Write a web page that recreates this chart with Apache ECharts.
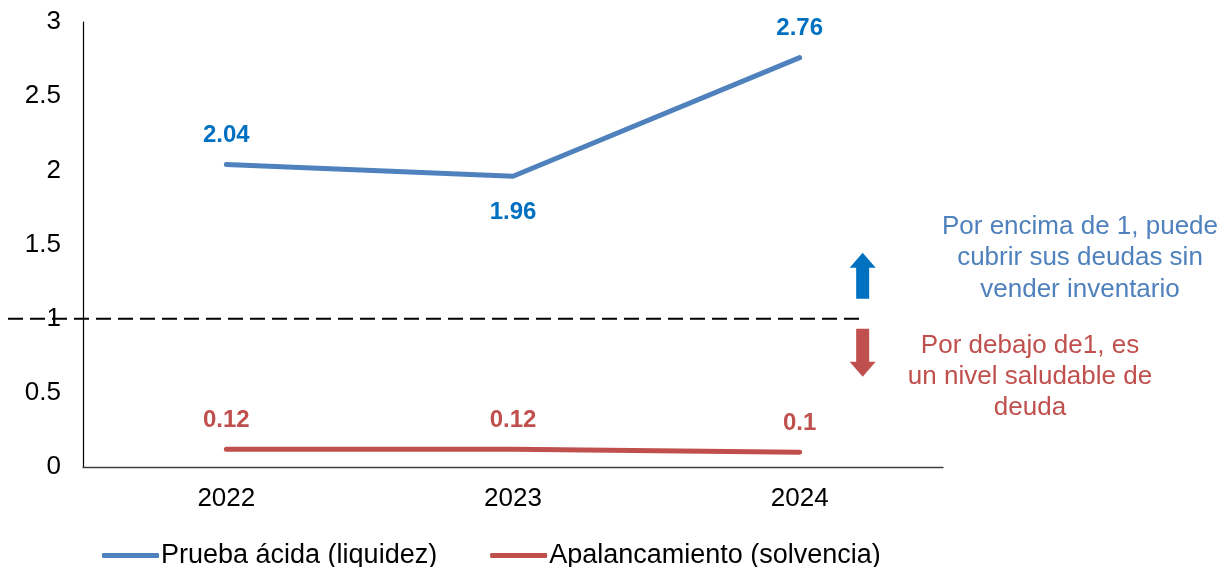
<!DOCTYPE html>
<html>
<head>
<meta charset="utf-8">
<script src="https://cdn.jsdelivr.net/npm/echarts@6/dist/echarts.min.js"></script>
<style>
  html, body { margin: 0; padding: 0; background: #fff; }
  #chart { width: 1226px; height: 567px; }
</style>
</head>
<body>
<div id="chart"></div>
<script>
// Years on the category axis
const years = ['2022', '2023', '2024'];
// Quick ratio (liquidity)
const pruebaAcida = [2.04, 1.96, 2.76];
// Leverage (solvency)
const apalancamiento = [0.12, 0.12, 0.1];
// Reference threshold
const umbral = 1;
// Value-axis settings
const yMin = 0, yMax = 3, yStep = 0.5;

const seriesNames = ['Prueba ácida (liquidez)', 'Apalancamiento (solvencia)'];
const notaArriba = ['Por encima de 1, puede', 'cubrir sus deudas sin', 'vender inventario'];
const notaAbajo = ['Por debajo de1, es', 'un nivel saludable de', 'deuda'];

const FONT = '"Liberation Sans", Arial, sans-serif';
const BLUE_LINE = '#4F81BD';
const BLUE_LABEL = '#0070C0';
const RED = '#C0504D';

const chart = echarts.init(document.getElementById('chart'), null, { renderer: 'canvas' });

// Blue labels: the middle point sits below its line
const blueData = pruebaAcida.map((v, i) => ({
  value: v,
  label: i === 1 ? { position: 'bottom', distance: 24 } : { position: 'top', distance: 17 }
}));

const option = {
  animation: false,
  backgroundColor: '#fff',
  grid: { left: 83, right: 283, top: 22, bottom: 100, containLabel: false },
  legend: {
    top: 537,
    left: 97,
    icon: 'roundRect',
    itemWidth: 57,
    itemHeight: 5,
    itemGap: 53,
    textStyle: { fontFamily: FONT, fontSize: 27, color: '#000', padding: [0, 0, 0, -3] },
    data: seriesNames
  },
  xAxis: {
    type: 'category',
    data: years,
    boundaryGap: true,
    axisLine: { lineStyle: { color: '#404040', width: 1.3 } },
    axisTick: { show: false },
    axisLabel: { fontFamily: FONT, fontSize: 26, color: '#000', margin: 19 },
    splitLine: { show: false }
  },
  yAxis: {
    type: 'value',
    min: yMin,
    max: yMax,
    interval: yStep,
    axisLine: { show: true, lineStyle: { color: '#000', width: 1.2 } },
    axisTick: { show: false },
    axisLabel: { fontFamily: FONT, fontSize: 26, color: '#000', margin: 22 },
    splitLine: { show: false }
  },
  series: [
    {
      name: seriesNames[0],
      type: 'line',
      data: blueData,
      showSymbol: true,
      symbol: 'circle',
      symbolSize: 0.1,
      lineStyle: { color: BLUE_LINE, width: 5, cap: 'round', join: 'round' },
      itemStyle: { color: BLUE_LINE },
      label: {
        show: true,
        fontFamily: FONT,
        fontSize: 24,
        fontWeight: 'bold',
        color: BLUE_LABEL
      },
      z: 3
    },
    {
      name: seriesNames[1],
      type: 'line',
      data: apalancamiento,
      showSymbol: true,
      symbol: 'circle',
      symbolSize: 0.1,
      lineStyle: { color: RED, width: 5, cap: 'round', join: 'round' },
      itemStyle: { color: RED },
      label: {
        show: true,
        position: 'top',
        distance: 17,
        fontFamily: FONT,
        fontSize: 24,
        fontWeight: 'bold',
        color: RED
      },
      z: 3
    }
  ]
};

chart.setOption(option);

// Threshold line, arrows and notes, placed from the value axis
const yLine = chart.convertToPixel({ yAxisIndex: 0 }, umbral);
const xLast = chart.convertToPixel({ xAxisIndex: 0 }, years[years.length - 1]);
const arrowX = xLast + 63;

function arrowShape(cx, tipY, baseY, up) {
  const shaftHalf = 6.5, headHalf = 13, headLen = 15;
  const dir = up ? 1 : -1;
  const neckY = tipY + dir * headLen;
  return [
    [cx, tipY],
    [cx + headHalf, neckY],
    [cx + shaftHalf, neckY],
    [cx + shaftHalf, baseY],
    [cx - shaftHalf, baseY],
    [cx - shaftHalf, neckY],
    [cx - headHalf, neckY]
  ];
}

const graphics = [
  {
    type: 'line',
    shape: { x1: 8, y1: yLine, x2: arrowX - 1, y2: yLine },
    style: { stroke: '#000', lineWidth: 2, lineDash: [15, 7] },
    z: 10
  },
  {
    type: 'polygon',
    shape: { points: arrowShape(arrowX, yLine - 66, yLine - 20, true) },
    style: { fill: BLUE_LABEL },
    z: 10
  },
  {
    type: 'polygon',
    shape: { points: arrowShape(arrowX, yLine + 58, yLine + 10, false) },
    style: { fill: RED },
    z: 10
  }
];

notaArriba.forEach((t, i) => {
  graphics.push({
    type: 'text',
    style: {
      text: t, x: 1080, y: yLine - 92 + i * 31.5,
      fill: BLUE_LINE, font: '26px ' + FONT,
      textAlign: 'center', textVerticalAlign: 'middle'
    },
    z: 10
  });
});
notaAbajo.forEach((t, i) => {
  graphics.push({
    type: 'text',
    style: {
      text: t, x: 1030, y: yLine + 27 + i * 31,
      fill: RED, font: '26px ' + FONT,
      textAlign: 'center', textVerticalAlign: 'middle'
    },
    z: 10
  });
});

chart.setOption({ graphic: graphics });
</script>
</body>
</html>
